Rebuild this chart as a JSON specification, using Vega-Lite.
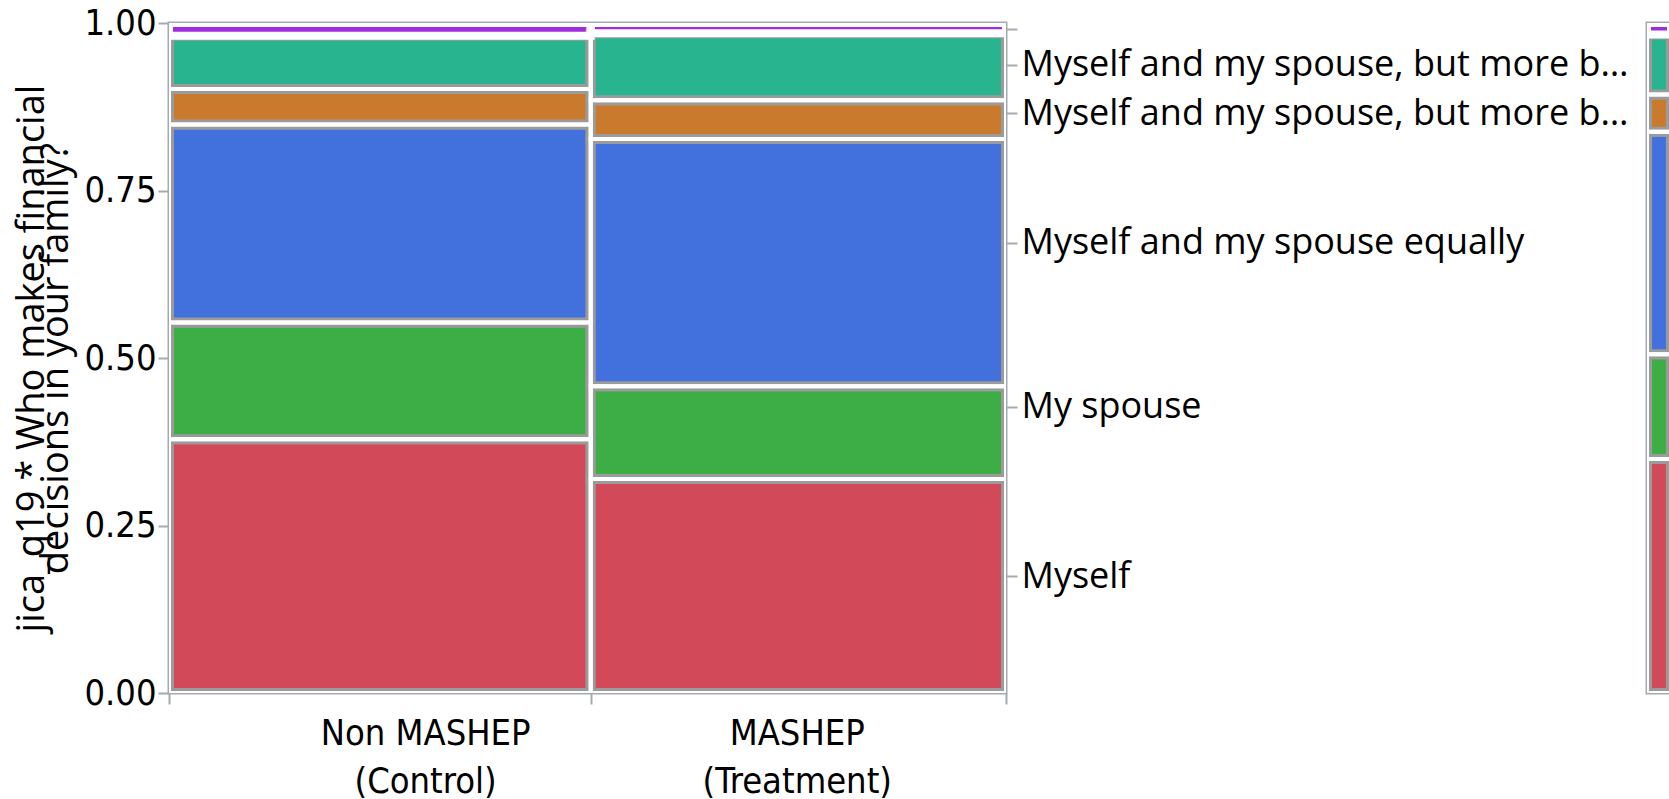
{
  "$schema": "https://vega.github.io/schema/vega-lite/v6.json",
  "background": "white",
  "padding": {"left": 11, "top": 3, "right": 0, "bottom": 0},
  "bounds": "flush",
  "spacing": 641,
  "config": {
    "view": {"stroke": "#A3AAB2", "strokeWidth": 3},
    "axis": {"domain": false, "grid": false, "tickColor": "#A3AAB2", "tickWidth": 2, "tickSize": 11, "labelColor": "black", "titleColor": "black"}
  },
  "datasets": {
    "survey": [
      {"group": "Non MASHEP (Control)", "treatment": 0, "code": 1, "answer": "Myself", "count": 100},
      {"group": "Non MASHEP (Control)", "treatment": 0, "code": 2, "answer": "My spouse", "count": 46},
      {"group": "Non MASHEP (Control)", "treatment": 0, "code": 3, "answer": "Myself and my spouse equally", "count": 78},
      {"group": "Non MASHEP (Control)", "treatment": 0, "code": 4, "answer": "Myself and my spouse, but more by me", "count": 14},
      {"group": "Non MASHEP (Control)", "treatment": 0, "code": 5, "answer": "Myself and my spouse, but more by my spouse", "count": 21},
      {"group": "Non MASHEP (Control)", "treatment": 0, "code": 6, "answer": "Other", "count": 5},
      {"group": "MASHEP (Treatment)", "treatment": 1, "code": 1, "answer": "Myself", "count": 83},
      {"group": "MASHEP (Treatment)", "treatment": 1, "code": 2, "answer": "My spouse", "count": 36},
      {"group": "MASHEP (Treatment)", "treatment": 1, "code": 3, "answer": "Myself and my spouse equally", "count": 96},
      {"group": "MASHEP (Treatment)", "treatment": 1, "code": 4, "answer": "Myself and my spouse, but more by me", "count": 15},
      {"group": "MASHEP (Treatment)", "treatment": 1, "code": 5, "answer": "Myself and my spouse, but more by my spouse", "count": 26},
      {"group": "MASHEP (Treatment)", "treatment": 1, "code": 6, "answer": "Other", "count": 4}
    ]
  },
  "hconcat": [
    {
      "width": 837,
      "height": 670,
      "data": {"name": "survey"},
      "transform": [
        {"stack": "count", "groupby": [], "sort": [{"field": "treatment", "order": "ascending"}, {"field": "code", "order": "ascending"}], "offset": "normalize", "as": ["sx0", "sx1"]},
        {"window": [{"op": "min", "field": "sx0", "as": "gx0"}, {"op": "max", "field": "sx1", "as": "gx1"}], "groupby": ["treatment"], "frame": [null, null]},
        {"stack": "count", "groupby": ["treatment"], "sort": [{"field": "code", "order": "ascending"}], "offset": "normalize", "as": ["gy0", "gy1"]}
      ],
      "encoding": {
        "x": {
          "field": "gx0", "type": "quantitative",
          "scale": {"domain": [0, 1], "nice": false, "zero": false},
          "axis": {
            "title": null,
            "values": [0, 0.306, 0.5038, 0.75, 1],
            "labelExpr": "datum.value == 0.306 ? ['Non MASHEP', '(Control)'] : datum.value == 0.75 ? ['MASHEP', '(Treatment)'] : ''",
            "tickOpacity": {"condition": {"test": "datum.value == 0.306 || datum.value == 0.75", "value": 0}, "value": 1},
            "labelOverlap": false,
            "labelFlush": false,
            "labelLimit": 500,
            "labelFont": "DejaVu Sans Condensed, Liberation Sans Narrow, Open Sans",
            "labelFontSize": 36,
            "labelLineHeight": 48,
            "labelPadding": 12
          }
        },
        "x2": {"field": "gx1"},
        "y": {
          "field": "gy0", "type": "quantitative",
          "scale": {"domain": [0, 1], "nice": false, "zero": false},
          "axis": {
            "orient": "left",
            "values": [0, 0.25, 0.5, 0.75, 1],
            "format": ".2f",
            "labelFont": "DejaVu Sans Condensed, Liberation Sans Narrow, Open Sans",
            "labelFontSize": 36,
            "labelPadding": 2,
            "title": ["jica_q19 * Who makes financial", "decisions in your family?"],
            "titleFont": "Open Sans",
            "titleFontSize": 38,
            "titleFontWeight": "normal",
            "titleLineHeight": 24,
            "titleAngle": -90,
            "titleAlign": "center",
            "titleBaseline": "middle",
            "titleLimit": 800,
            "titleX": -137,
            "titleY": 335
          }
        },
        "y2": {"field": "gy1"}
      },
      "layer": [
        {
          "mark": {"type": "rect", "clip": true, "stroke": "#9B9B9B"},
          "encoding": {
            "color": {
              "field": "answer", "type": "nominal", "legend": null,
              "scale": {
                "domain": ["Myself", "My spouse", "Myself and my spouse equally", "Myself and my spouse, but more by me", "Myself and my spouse, but more by my spouse", "Other"],
                "range": ["#D24A59", "#3DAE46", "#4270DC", "#CA7A2C", "#29B490", "#A12BDE"]
              }
            },
            "strokeWidth": {"condition": {"test": "datum.code == 6", "value": 0}, "value": 10}
          }
        },
        {
          "mark": {"type": "rect", "clip": true, "stroke": "white", "fill": "white", "fillOpacity": 0},
          "encoding": {
            "y": {
              "field": "gy0", "type": "quantitative",
              "scale": {"domain": [0, 1], "nice": false, "zero": false},
              "axis": {
                "orient": "right",
                "title": null,
                "values": [0.17462, 0.42748, 0.67176, 0.86546, 0.93798, 0.99141],
                "labelExpr": "datum.value < 0.3 ? 'Myself' : datum.value < 0.5 ? 'My spouse' : datum.value < 0.8 ? 'Myself and my spouse equally' : datum.value < 0.9 ? 'Myself and my spouse, but more by me' : datum.value < 0.95 ? 'Myself and my spouse, but more by my spouse' : ''",
                "labelOverlap": false,
                "labelFlush": false,
                "labelFont": "Open Sans",
                "labelFontSize": 36,
                "labelLimit": 612,
                "labelPadding": 4
              }
            },
            "strokeWidth": {"condition": {"test": "datum.code == 6", "value": 8}, "value": 4}
          }
        }
      ],
      "resolve": {"axis": {"y": "independent"}}
    },
    {
      "width": 24,
      "height": 670,
      "data": {"name": "survey"},
      "transform": [
        {"aggregate": [{"op": "sum", "field": "count", "as": "total"}], "groupby": ["code", "answer"]},
        {"stack": "total", "groupby": [], "sort": [{"field": "code", "order": "ascending"}], "offset": "normalize", "as": ["my0", "my1"]}
      ],
      "encoding": {
        "y": {"field": "my0", "type": "quantitative", "scale": {"domain": [0, 1], "nice": false, "zero": false}, "axis": null},
        "y2": {"field": "my1"}
      },
      "layer": [
        {
          "mark": {"type": "rect", "clip": true, "stroke": "#9B9B9B"},
          "encoding": {
            "color": {
              "field": "answer", "type": "nominal", "legend": null,
              "scale": {
                "domain": ["Myself", "My spouse", "Myself and my spouse equally", "Myself and my spouse, but more by me", "Myself and my spouse, but more by my spouse", "Other"],
                "range": ["#D24A59", "#3DAE46", "#4270DC", "#CA7A2C", "#29B490", "#A12BDE"]
              }
            },
            "strokeWidth": {"condition": {"test": "datum.code == 6", "value": 0}, "value": 10}
          }
        },
        {
          "mark": {"type": "rect", "clip": true, "stroke": "white", "fill": "white", "fillOpacity": 0},
          "encoding": {
            "strokeWidth": {"condition": {"test": "datum.code == 6", "value": 8}, "value": 4}
          }
        }
      ]
    }
  ]
}
